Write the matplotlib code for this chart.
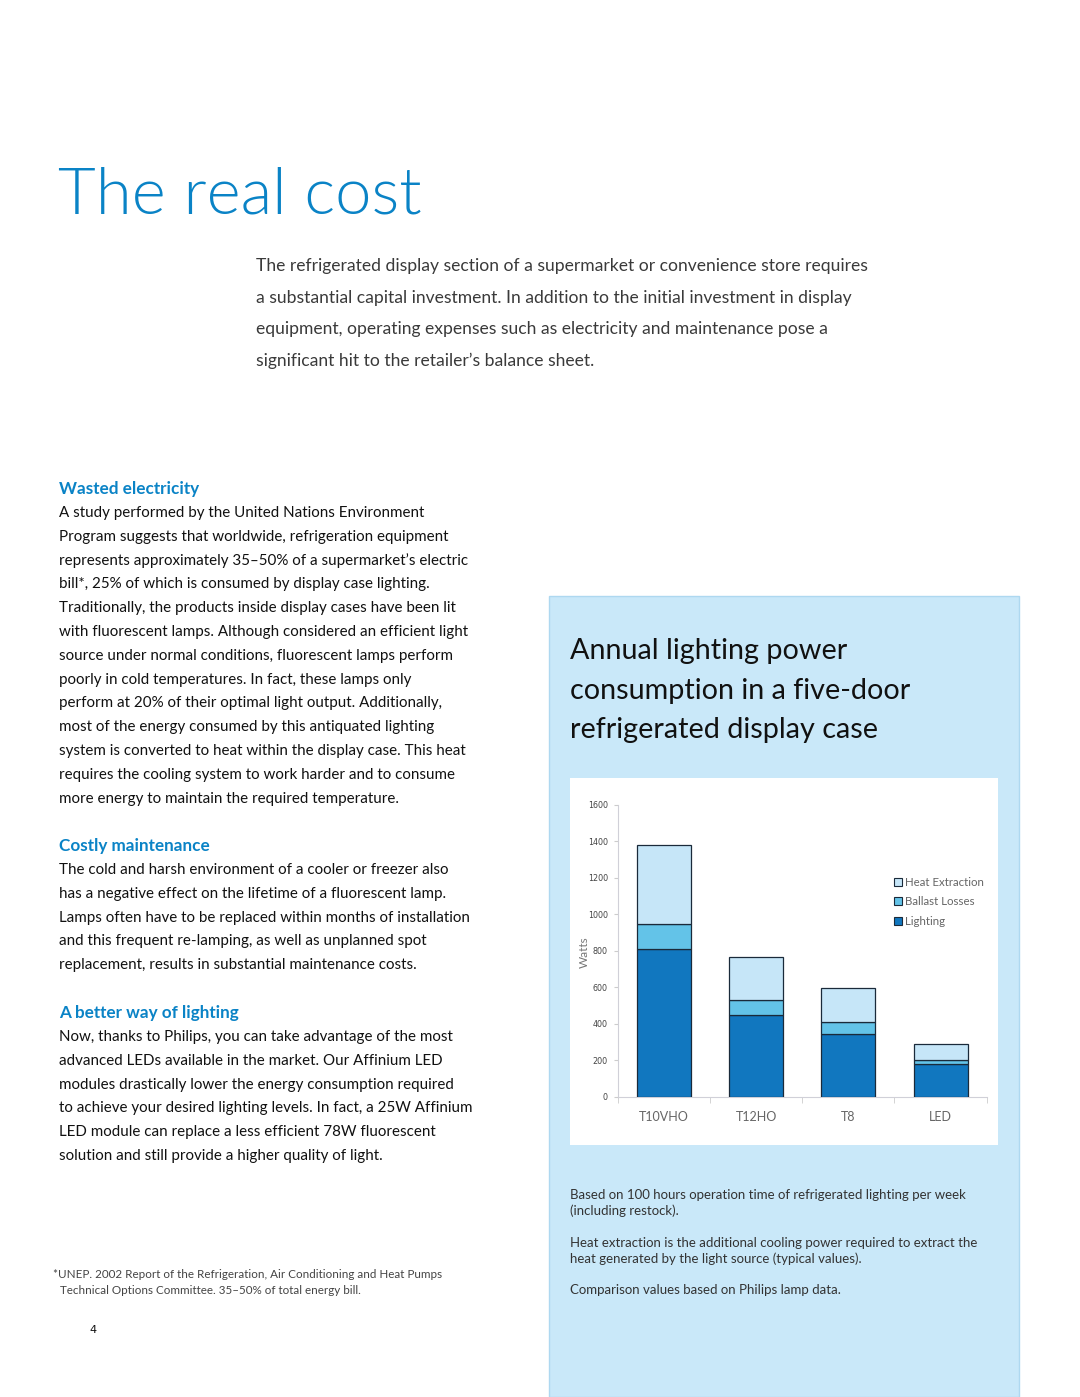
import numpy as np
import matplotlib.pyplot as plt
from matplotlib.patches import Rectangle, Patch

# Datos del grafico
CATEGORIAS = ['T10VHO', 'T12HO', 'T8', 'LED']
LIGHTING = [810, 450, 345, 180]
BALLAST = [140, 80, 65, 20]
HEAT = [430, 235, 185, 90]
SERIES = ['Lighting', 'Ballast Losses', 'Heat Extraction']
YTICKS = [0, 200, 400, 600, 800, 1000, 1200, 1400, 1600]

W, H = 1080, 1397
AZUL = '#0a83c6'
FUENTE = 'Lato'

fig = plt.figure(figsize=(W / 100, H / 100), dpi=100)


def px(x, y):
    return x / W, 1 - y / H


def texto(x, y, s, **kw):
    kw.setdefault('family', FUENTE)
    kw.setdefault('va', 'center')
    kw.setdefault('ha', 'left')
    fig.text(*px(x, y), s, **kw)


def parrafo(x, y0, paso, lineas, **kw):
    for i, linea in enumerate(lineas):
        texto(x, y0 + i * paso, linea, **kw)


# Paneles de fondo
fig.patches.append(Rectangle(px(549, 1397), 470 / W, (1397 - 596) / H, transform=fig.transFigure,
                             facecolor='#c9e8f9', edgecolor='#aed8f0', lw=1, zorder=-3))
fig.patches.append(Rectangle(px(570, 1145), 428 / W, 367 / H, transform=fig.transFigure,
                             facecolor='white', edgecolor='none', zorder=-2))

# Titulo principal
texto(58, 196, 'The real cost', fontsize=47, color=AZUL, fontweight=300)

intro = ['The refrigerated display section of a supermarket or convenience store requires',
         'a substantial capital investment. In addition to the initial investment in display',
         'equipment, operating expenses such as electricity and maintenance pose a',
         'significant hit to the retailer\u2019s balance sheet.']
parrafo(256, 266, 31.7, intro, fontsize=12.6, color='#3a3a3a')

cuerpo = dict(fontsize=10.9, color='#111111')
cabecera = dict(fontsize=12.3, color=AZUL, fontweight='bold')

texto(59, 489, 'Wasted electricity', **cabecera)
parrafo(59, 513, 23.8, [
    'A study performed by the United Nations Environment',
    'Program suggests that worldwide, refrigeration equipment',
    'represents approximately 35\u201350% of a supermarket\u2019s electric',
    'bill*, 25% of which is consumed by display case lighting.',
    'Traditionally, the products inside display cases have been lit',
    'with fluorescent lamps. Although considered an efficient light',
    'source under normal conditions, fluorescent lamps perform',
    'poorly in cold temperatures. In fact, these lamps only',
    'perform at 20% of their optimal light output. Additionally,',
    'most of the energy consumed by this antiquated lighting',
    'system is converted to heat within the display case. This heat',
    'requires the cooling system to work harder and to consume',
    'more energy to maintain the required temperature.'], **cuerpo)

texto(59, 846, 'Costly maintenance', **cabecera)
parrafo(59, 870, 23.8, [
    'The cold and harsh environment of a cooler or freezer also',
    'has a negative effect on the lifetime of a fluorescent lamp.',
    'Lamps often have to be replaced within months of installation',
    'and this frequent re-lamping, as well as unplanned spot',
    'replacement, results in substantial maintenance costs.'], **cuerpo)

texto(59, 1013, 'A better way of lighting', **cabecera)
parrafo(59, 1037, 23.8, [
    'Now, thanks to Philips, you can take advantage of the most',
    'advanced LEDs available in the market. Our Affinium LED',
    'modules drastically lower the energy consumption required',
    'to achieve your desired lighting levels. In fact, a 25W Affinium',
    'LED module can replace a less efficient 78W fluorescent',
    'solution and still provide a higher quality of light.'], **cuerpo)

pie = dict(fontsize=8.4, color='#444444')
texto(53, 1275, '*UNEP. 2002 Report of the Refrigeration, Air Conditioning and Heat Pumps', **pie)
texto(60, 1290, 'Technical Options Committee. 35\u201350% of total energy bill.', **pie)
texto(89, 1330, '4', fontsize=8, color='#111111', family='DejaVu Sans')

# Titulo del grafico
parrafo(570, 651, 39.7, ['Annual lighting power', 'consumption in a five-door',
                         'refrigerated display case'], fontsize=20.7, color='#111111')

notas = dict(fontsize=9.5, color='#333333')
texto(570, 1195, 'Based on 100 hours operation time of refrigerated lighting per week', **notas)
texto(570, 1211, '(including restock).', **notas)
texto(570, 1243, 'Heat extraction is the additional cooling power required to extract the', **notas)
texto(570, 1259, 'heat generated by the light source (typical values).', **notas)
texto(570, 1290, 'Comparison values based on Philips lamp data.', **notas)

# Grafico de barras apiladas
x0, y0 = px(617.7, 1096.7)
x1, y1 = px(986.7, 805)
ax = fig.add_axes([x0, y0, x1 - x0, y1 - y0])
ax.set_facecolor('none')
ax.set_zorder(2)

x = np.arange(len(CATEGORIAS))
colores = ['#1177bf', '#63c3e8', '#c6e6f8']
base = np.zeros(len(CATEGORIAS))
for valores, color in zip([LIGHTING, BALLAST, HEAT], colores):
    ax.bar(x, valores, 0.585, bottom=base, color=color, edgecolor='#1a2a3a', linewidth=0.9, zorder=3)
    base = base + np.array(valores)

ax.set_xlim(-0.5, len(CATEGORIAS) - 0.5)
ax.set_ylim(0, 1600)
ax.set_yticks(YTICKS)
ax.set_yticklabels([str(v) for v in YTICKS], fontsize=5.8, color='#444444', family='DejaVu Sans')
ax.set_xticks(x)
ax.set_xticklabels(CATEGORIAS, fontsize=9, color='#666666', family=FUENTE)
ax.tick_params(axis='x', length=0, pad=10)
ax.set_xticks(np.arange(-0.5, len(CATEGORIAS)), minor=True)
ax.tick_params(axis='x', which='minor', length=4, color='#cccccc')
ax.tick_params(axis='y', length=3, color='#cccccc', pad=4)
for lado in ['top', 'right']:
    ax.spines[lado].set_visible(False)
for lado in ['left', 'bottom']:
    ax.spines[lado].set_color('#d0d0d8')
    ax.spines[lado].set_linewidth(0.8)
ax.set_ylabel('Watts', fontsize=8.5, color='#777777', family=FUENTE)
ax.yaxis.set_label_coords(-0.076, 0.496)

handles = [Patch(facecolor=c, edgecolor='#1a2a3a', linewidth=0.8) for c in colores]
leg = ax.legend(handles[::-1], SERIES[::-1], loc='upper left',
                bbox_to_anchor=px(894, 877), bbox_transform=fig.transFigure,
                frameon=False, handlelength=0.7, handleheight=0.7,
                handletextpad=0.25, labelspacing=0.72, borderpad=0, borderaxespad=0,
                prop={'family': FUENTE, 'size': 8.3})
for t in leg.get_texts():
    t.set_color('#666666')

fig.savefig('out.png', dpi=100)
